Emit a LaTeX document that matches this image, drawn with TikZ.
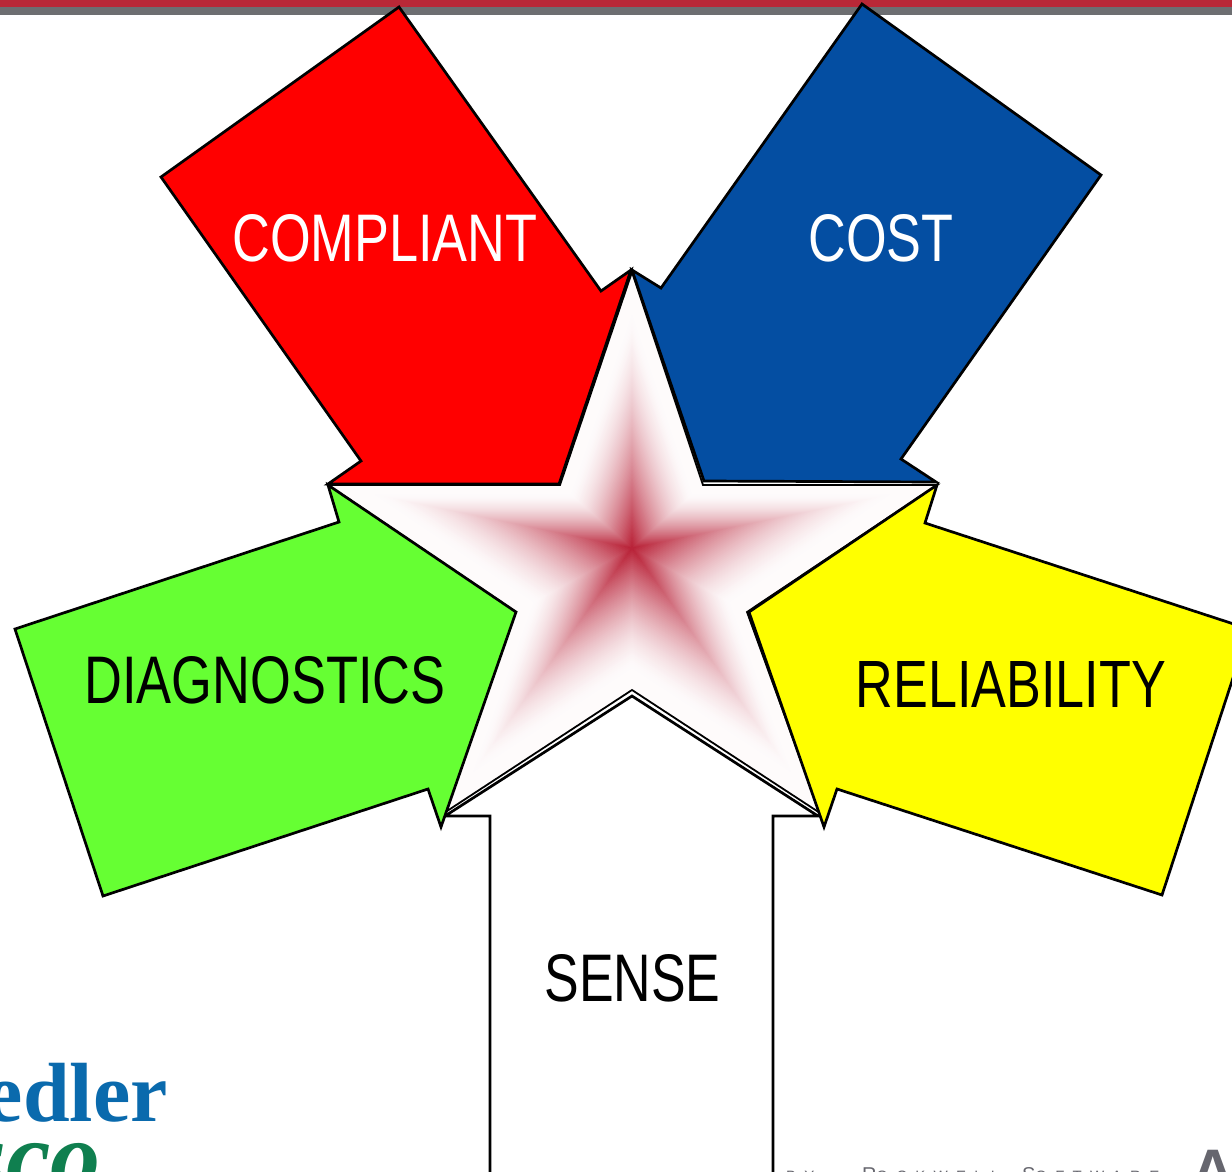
\documentclass[tikz,border=0pt]{standalone}
\usepackage{fontspec}
\setmainfont{Liberation Sans}
\newfontfamily\logofont{Liberation Serif}
\definecolor{bandred}{HTML}{B92837}
\definecolor{bandgray}{HTML}{6D6E71}
\definecolor{starred}{HTML}{B92238}
\definecolor{arrowred}{HTML}{FF0000}
\definecolor{arrowblue}{HTML}{044EA2}
\definecolor{arrowgreen}{HTML}{66FF33}
\definecolor{arrowyellow}{HTML}{FFFF00}
\definecolor{logoblue}{HTML}{0A6AAD}
\definecolor{logogreen}{HTML}{0F7F4F}
\definecolor{footgray}{HTML}{66666E}
\newcommand{\fitlabel}[3]{\resizebox{#1pt}{#2pt}{#3}}
\newcommand{\footbig}[1]{{\fontsize{20}{20}\selectfont #1}}
\newcommand{\footsmall}[1]{{\fontsize{15}{15}\selectfont\addfontfeature{LetterSpace=55}#1}}
\tikzset{
  arrowshape/.style={draw=black,line width=2.7pt,line join=miter,miter limit=10},
  starline/.style={draw=black,line width=1.8pt,line join=miter},
  lbl/.style={inner sep=0pt,outer sep=0pt,anchor=center},
  footer/.style={inner sep=0pt,outer sep=0pt,anchor=base west,text=footgray}
}
\begin{document}
\begin{tikzpicture}[x=1pt,y=-1pt]
\useasboundingbox (0,0) rectangle (1232,1172);
\clip (0,0) rectangle (1232,1172);
\fill[white] (0,0) rectangle (1232,1172);
% header band
\fill[bandred] (0,0) rectangle (1232,7.5);
\fill[bandgray] (0,7.5) rectangle (1232,15);
% logos
\node[inner sep=0pt,anchor=base east,text=logoblue] (fiedler) at (168,1121)
  {\fontsize{84}{84}\logofont\bfseries edler};
\node[inner sep=0pt,anchor=base east,text=logogreen] (sysco) at (101,1190)
  {\fontsize{100}{100}\logofont\bfseries\itshape sco};
\node[footer] (by) at (786,1181) {\footsmall{BY}};
\node[footer] (rock) at (862,1181) {\footbig{R}\footsmall{OCKWELL}};
\node[footer] (soft) at (1022,1181) {\footbig{S}\footsmall{OFTWARE}};
\node[footer] (ab) at (1191,1191) {\fontsize{60}{60}\bfseries A};
% sense arrow
\filldraw[arrowshape,fill=white] (632,696) -- (818,816) -- (773,816) -- (773,1190) -- (490,1190) -- (490,816) -- (445,816) -- cycle;
% star with path gradient
\foreach \i in {70,...,1}{
  \pgfmathsetmacro{\s}{\i/70}
  \pgfmathsetmacro{\p}{100*max(1-\s/0.85,0.0001)^1.55}
  \pgfmathsetmacro{\q}{\p+2}
  \begin{scope}[shift={(632,548)},scale=\s]
    \fill[starred!\q!white] (0,-276) -- (71,-63) -- (305,-63) -- (115,64) -- (188,265) -- (0,142) -- (-188,265) -- (-116,64) -- (-304,-63) -- (-72,-63) -- cycle;
  \end{scope}
}
\draw[starline] (632,272) -- (703,485) -- (937,485) -- (747,612) -- (820,813) -- (632,690) -- (444,813) -- (516,612) -- (328,485) -- (560,485) -- cycle;
% arrows
\filldraw[arrowshape,fill=arrowred] (399,7) -- (601,291) -- (631,270) -- (559,484) -- (328,484) -- (361,461) -- (161,177) -- cycle;
\filldraw[arrowshape,fill=arrowblue] (862,4) -- (1101,175) -- (901,459) -- (936,482) -- (704,481) -- (632,270) -- (661,288) -- cycle;
\filldraw[arrowshape,fill=arrowgreen] (15,629) -- (339,522) -- (328,485) -- (516,612) -- (441,827) -- (428,789) -- (103,896) -- cycle;
\filldraw[arrowshape,fill=arrowyellow] (1249,629) -- (925,523) -- (937,485) -- (749,612) -- (824,827) -- (837,789) -- (1162,895) -- cycle;
% labels
\node[lbl,text=white] (compliant) at (385,238) {\fitlabel{305}{47}{COMPLIANT}};
\node[lbl,text=white] (cost) at (881,238) {\fitlabel{145}{47}{COST}};
\node[lbl,text=black] (diag) at (265,680) {\fitlabel{361}{47}{DIAGNOSTICS}};
\node[lbl,text=black] (rel) at (1011,684) {\fitlabel{310}{46}{RELIABILITY}};
\node[lbl,text=black] (sense) at (632.5,978) {\fitlabel{176}{47}{SENSE}};
\end{tikzpicture}
\end{document}
